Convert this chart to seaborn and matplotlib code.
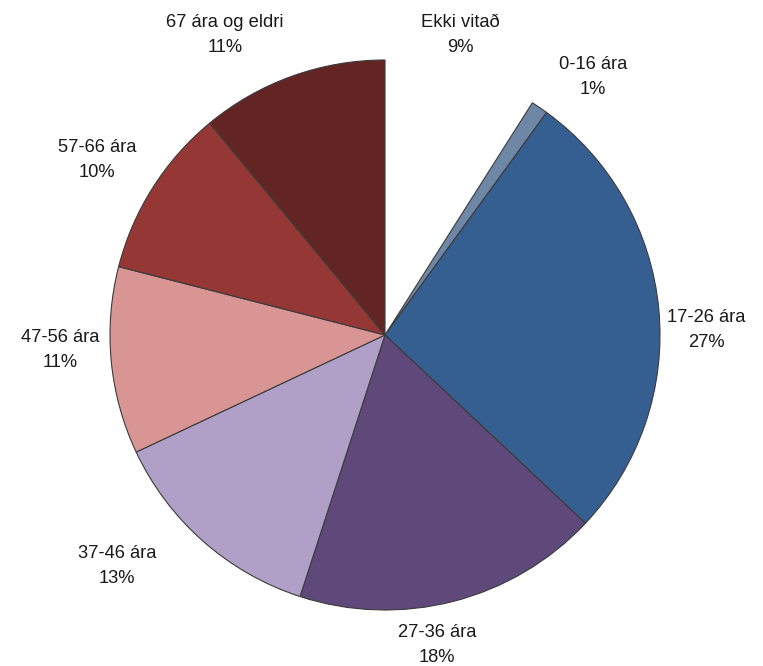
"""
Aldursdreifing - kökurit
"""
import numpy as np
import matplotlib
matplotlib.use("Agg")
import matplotlib.pyplot as plt
import seaborn as sns

# Data
categories = ['Ekki vitað', '0-16 ára', '17-26 ára', '27-36 ára',
              '37-46 ára', '47-56 ára', '57-66 ára', '67 ára og eldri']
shares = [9, 1, 27, 18, 13, 11, 10, 11]
slice_colors = ['#ffffff', '#6f87a6', '#365f91', '#5f497a',
                '#b0a0c8', '#d99594', '#953735', '#632523']

# where the labels sit in the picture (px from top-left)
label_px = [(460, 35), (593, 77), (706, 330), (437, 645),
            (117, 566), (60, 350), (97, 160), (225, 35)]

sns.set_theme(style="white")
plt.rcParams['font.family'] = ['Liberation Sans', 'DejaVu Sans']

fig = plt.figure(figsize=(7.63, 6.66), dpi=100)
ax = fig.add_axes([0, 0, 1, 1])

labels = [f"{c}\n{v}%" for c, v in zip(categories, shares)]
palette = sns.color_palette(slice_colors)

wedges, _ = ax.pie(shares, colors=palette,
                   startangle=90, counterclock=False,
                   wedgeprops=dict(edgecolor='#3b3b3b', linewidth=0.8))

# the "unknown" slice is left blank
wedges[0].set_edgecolor('none')
wedges[0].set_facecolor('none')

# centre at (385, 335) px, radius 275 px
r_px = 275
cx, cy = 385, 335
for lab, (px, py) in zip(labels, label_px):
    ax.text((px - cx) / r_px, (cy - py) / r_px, lab, ha='center', va='center',
            fontsize=13.2, color='#1a1a1a', linespacing=1.55)

ax.set_xlim(-cx / r_px, (763 - cx) / r_px)
ax.set_ylim((cy - 666) / r_px, cy / r_px)
ax.set_aspect('equal')
ax.axis('off')

plt.savefig('out.png', dpi=100)
